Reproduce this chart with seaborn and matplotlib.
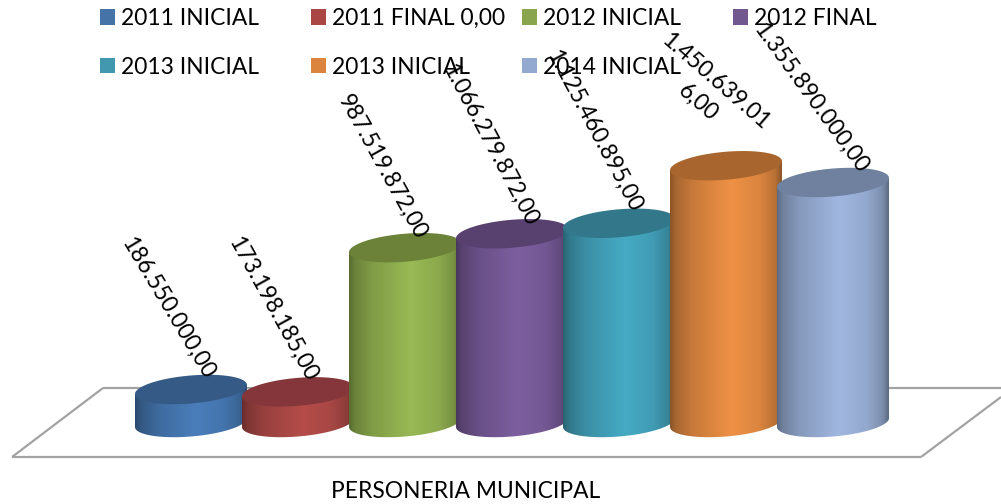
import numpy as np
import pandas as pd
import matplotlib
matplotlib.use("Agg")
import matplotlib.pyplot as plt
from matplotlib.patches import Patch, Polygon
from matplotlib.path import Path
from matplotlib.lines import Line2D
from matplotlib.colors import to_rgb
import seaborn as sns

# ---- data ----
series = ["2011 INICIAL", "2011 FINAL 0,00", "2012 INICIAL", "2012 FINAL",
          "2013 INICIAL", "2013 INICIAL", "2014 INICIAL"]
values = [186550000, 173198185, 987519872, 1066279872,
          1125460895, 1450639016, 1355890000]
value_labels = ["186.550.000,00", "173.198.185,00", "987.519.872,00", "1.066.279.872,00",
                "1.125.460.895,00", "1.450.639.01\n6,00", "1.355.890.000,00"]
category = "PERSONERIA MUNICIPAL"

# ---- style ----
legend_colors = ["#4572a7", "#aa4643", "#89a54e", "#71588f", "#4198af", "#db843d", "#93a9cf"]
body_colors = ["#4a7ebb", "#b54d4a", "#98b954", "#7d5fa0", "#46aac4", "#ee9145", "#a0b7e0"]
top_colors = ["#355a85", "#84363a", "#6b8238", "#58406f", "#33788a", "#a8662e", "#6f819f"]
label_rot = [-59, -61, -61, -62, -62, -41, -54]
label_off = [(-23, 81), (-25, 83), (-23, 81), (-22, 89), (-25, 92), (-19, 74), (-22, 85)]

W, H = 1001, 504
FS = 16.4
PX_PER_UNIT_Y = 0.177 / 1e6
X0, PITCH, BASE = 191, 107, 422.5
BAR_W = 112
ELL_H, SHEAR = 14, 4.5

sns.set_theme(style="white")
plt.rcParams["font.family"] = ["Lato", "DejaVu Sans"]

fig = plt.figure(figsize=(W / 100, H / 100), dpi=100)
ax = fig.add_axes([0, 0, 1, 1])

df = pd.DataFrame({"pos": np.arange(len(values)), "valor": values})
sns.barplot(data=df, x="pos", y="valor", hue="pos", palette=body_colors, legend=False,
            dodge=False, width=BAR_W / PITCH, saturation=1, ax=ax)

xlim = (-X0 / PITCH, (W - X0) / PITCH)
ylim = ((BASE - H) / PX_PER_UNIT_Y, BASE / PX_PER_UNIT_Y)

def fx(px):
    return px / W

def fy(py):
    return 1 - py / H

# floor
floor_col = "#a3a3a3"
for xs, ys in [((12, 921), (457, 457)), ((12, 103), (457, 388)), ((103, 1001), (388, 388)),
               ((921, 1001), (457, 397))]:
    ax.add_line(Line2D([fx(x) for x in xs], [fy(y) for y in ys], transform=ax.transAxes,
                       color=floor_col, lw=1.6, zorder=1, solid_capstyle="butt"))

sy = 1 / PX_PER_UNIT_Y        # data units per pixel, y
t = np.linspace(0, 2 * np.pi, 181)
prof_x = [0, .05, .2, .55, .8, .94, 1]
prof_f = [.58, .70, .84, 1.0, .92, .78, .58]

bars = sorted(ax.patches, key=lambda p: p.get_x())
for i, bar in enumerate(bars):
    x0 = bar.get_x()
    bw = bar.get_width()
    cx = x0 + bw / 2
    v = bar.get_height()
    hw = bw / 2
    ell = lambda c: np.c_[cx + hw * np.cos(c), (ELL_H * np.sin(c) + SHEAR * np.cos(c)) * sy]
    low = ell(np.linspace(0, -np.pi, 91))
    top_pts = ell(t) + [0, v]
    sil = np.r_[[[cx - hw, v - SHEAR * sy]], low[::-1], [[cx + hw, v + SHEAR * sy]]]
    path = Path(np.r_[sil, sil[:1]], closed=True)

    z = 2 + i
    bar.set_zorder(z)
    bar.set_edgecolor("none")
    bar.set_clip_path(path, ax.transData)

    xs = np.linspace(0, 1, 256)
    f = np.interp(xs, prof_x, prof_f)
    img = np.clip(np.outer(f, to_rgb(body_colors[i])), 0, 1)[None, :, :]
    im = ax.imshow(img, extent=(x0, x0 + bw, -ELL_H * 2 * sy, v + ELL_H * sy),
                   aspect="auto", interpolation="bilinear", zorder=z + .1, origin="lower")
    im.set_clip_path(path, ax.transData)

    ax.add_patch(Polygon(top_pts, closed=True, facecolor=top_colors[i],
                         edgecolor="none", zorder=z + .2))

    dx, dy = label_off[i]
    ax.annotate(value_labels[i], xy=(cx, v), xytext=(dx, dy), textcoords="offset pixels",
                rotation=label_rot[i], rotation_mode="anchor", ha="center", va="center",
                multialignment="center", fontsize=FS, color="black", zorder=50, linespacing=1.35)

ax.set_xlim(*xlim)
ax.set_ylim(*ylim)
ax.axis("off")

ax.text(fx(466), fy(491), category, transform=ax.transAxes, ha="center", va="center",
        fontsize=FS, color="black")

# legend: matplotlib fills columns first, the reference reads row by row
order = [0, 4, 1, 5, 2, 6, 3]
handles = [Patch(facecolor=legend_colors[j], edgecolor="none", label=series[j]) for j in order]
fpx = FS * 100 / 72
leg = ax.legend(handles=handles, ncols=4, loc="upper left",
                bbox_to_anchor=(fx(100), fy(8)), borderaxespad=0, borderpad=0,
                frameon=False, fontsize=FS, handlelength=15 / fpx, handleheight=15 / fpx,
                handletextpad=6 / fpx, labelspacing=1.22, labelcolor="black")
leg.set_zorder(40)
fig.canvas.draw()
rend = fig.canvas.get_renderer()
maxw = max(tx.get_window_extent(rend).width for tx in leg.get_texts()) + 21
leg._legend_handle_box.mode = "equal"
leg._legend_handle_box.sep = (211 - maxw) * 72 / 100

fig.savefig("out.png", dpi=100)
